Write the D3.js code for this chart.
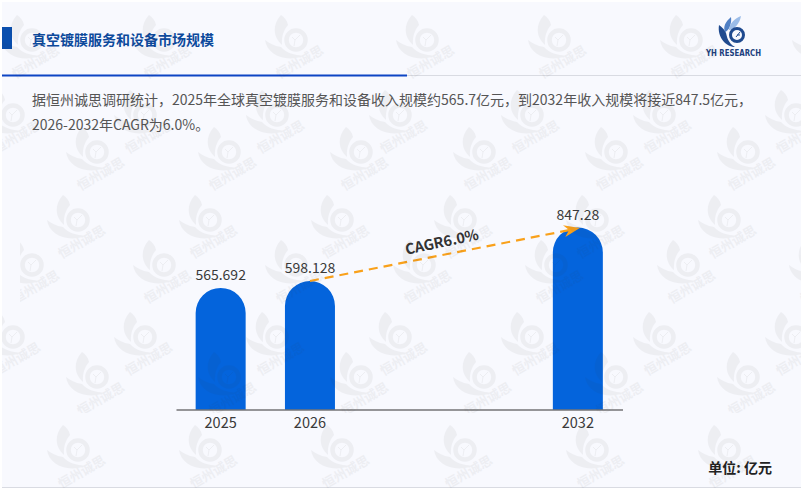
<!DOCTYPE html>
<html>
<head>
<meta charset="utf-8">
<script src="https://cdn.jsdelivr.net/npm/d3@7"></script>
<style>
  html, body { margin: 0; padding: 0; background: #fff; }
  svg { display: block; }
  text { font-family: "Noto Sans CJK SC", "Noto Sans", sans-serif; }
</style>
</head>
<body>
<svg id="chart" width="801" height="491"></svg>
<script>
// data
const years = ["2025", "2026", " ", "  ", "2032"];
const values = [565.692, 598.128, null, null, 847.28];
const valueLabels = ["565.692", "598.128", "", "", "847.28"];
const cagrLabel = "CAGR6.0%";
const titleText = "真空镀膜服务和设备市场规模";
const introLines = [
  "据恒州诚思调研统计，2025年全球真空镀膜服务和设备收入规模约565.7亿元，到2032年收入规模将接近847.5亿元，",
  "2026-2032年CAGR为6.0%。"
];
const unitText = "单位: 亿元";

// watermark rows: y, first x on the left half, first x on the right half
const wmRows = [
  [40, 32, 427], [115, 13, 400], [152, 97, 484], [220, 78, 465],
  [265, 32, 424], [337, 13, 400], [377, 97, 484], [450, 78, 465]
];

const svg = d3.select("#chart");

// page background + header
svg.append("rect").attr("x", 2).attr("y", 2).attr("width", 799).attr("height", 486).attr("fill", "#f8f9fe");
svg.append("rect").attr("x", 2).attr("y", 27).attr("width", 10).attr("height", 22).attr("fill", "#0a4fae");
svg.append("text").attr("x", 32).attr("y", 45).attr("font-size", 14).attr("font-weight", 700)
  .attr("fill", "#0d4a9c").text(titleText);
svg.append("rect").attr("x", 2).attr("y", 75).attr("width", 799).attr("height", 1).attr("fill", "#d9dbe2");
svg.append("rect").attr("x", 2).attr("y", 74.5).attr("width", 405).attr("height", 2).attr("fill", "#0d45c4");
svg.append("rect").attr("x", 2).attr("y", 487).attr("width", 799).attr("height", 1).attr("fill", "#d9dbe2");

svg.selectAll("text.intro").data(introLines).enter().append("text")
  .attr("class", "intro")
  .attr("x", 32)
  .attr("y", (d, i) => 105 + i * 25)
  .attr("font-size", 14)
  .attr("fill", "#555")
  .text(d => d);

// YH logo
const logo = svg.append("g").attr("transform", "translate(737,35)");
logo.append("path").attr("fill", "#1f4a8f").attr("d", "M-18,-10 C-20,2 -11,12 -2,12 C-9,8 -10,2 -11,-2 C-12,-5 -15,-8 -18,-10Z");
logo.append("path").attr("fill", "#4f7fc4").attr("d", "M-6,-18 C-12,-13 -14,-8 -12,-3 C-8,-4 -5,-12 -6,-18Z");
logo.append("path").attr("fill", "#9bbce8").attr("d", "M4,-19 C-2,-17 -8,-11 -8,-5 C-3,-5 3,-12 4,-19Z");
logo.append("circle").attr("r", 6.5).attr("fill", "none").attr("stroke", "#1f4a8f").attr("stroke-width", 3);
logo.append("path").attr("fill", "none").attr("stroke", "#1f4a8f").attr("d", "M-1,2 L3,-3 M0,0 L3,0");
svg.append("text").attr("x", 733.5).attr("y", 56).attr("text-anchor", "middle")
  .attr("font-size", 8).attr("font-weight", 700).attr("fill", "#1c3f7d")
  .style("font-family", "'DejaVu Sans', sans-serif")
  .attr("textLength", 55).attr("lengthAdjust", "spacingAndGlyphs").text("YH RESEARCH");

// scales
const x = d3.scaleBand().domain(years).range([176, 622.5]);
const y = d3.scaleLinear().domain([0, 847.28]).range([409.5, 227.5]);
const barWidth = 50;
const cx = d => x(d) + x.bandwidth() / 2;

const bars = years.map((yr, i) => ({ yr, v: values[i], label: valueLabels[i] })).filter(d => d.v != null);

function barPath(d) {
  const r = barWidth / 2;
  const p = d3.path();
  p.moveTo(cx(d.yr) - r, y(0));
  p.lineTo(cx(d.yr) - r, y(d.v) + r);
  p.arc(cx(d.yr), y(d.v) + r, r, Math.PI, 0);
  p.lineTo(cx(d.yr) + r, y(0));
  p.closePath();
  return p.toString();
}

svg.selectAll("path.bar").data(bars).enter().append("path")
  .attr("class", "bar").attr("d", barPath).attr("fill", "#0464dc");

// axis
const axis = d3.axisBottom(x).tickSize(0).tickPadding(8.5).tickValues(["2025", "2026", "2032"]);
const axisG = svg.append("g").attr("transform", "translate(0,409.5)").call(axis);
axisG.select(".domain").attr("stroke", "#333").attr("stroke-width", 1.2);
axisG.selectAll("text").attr("font-size", 14.5).attr("fill", "#3a3a3a")
  .style("font-family", "'Noto Sans CJK SC', sans-serif");

svg.selectAll("text.val").data(bars).enter().append("text")
  .attr("class", "val")
  .attr("x", d => cx(d.yr))
  .attr("y", d => y(d.v) - 8)
  .attr("text-anchor", "middle")
  .attr("font-size", 14)
  .attr("fill", "#3a3a3a")
  .text(d => d.label);

// CAGR arrow
const ax0 = cx("2026"), ay0 = y(598.128), ax1 = cx("2032") + 2, ay1 = y(847.28) + 0.5;
const ang = Math.atan2(ay1 - ay0, ax1 - ax0) * 180 / Math.PI;
svg.append("line").attr("x1", ax0).attr("y1", ay0).attr("x2", ax1 - 10).attr("y2", ay1 + 2)
  .attr("stroke", "#f9a11b").attr("stroke-width", 2.2).attr("stroke-dasharray", "9 6");
svg.append("path")
  .attr("transform", `translate(${ax1},${ay1}) rotate(${ang})`)
  .attr("d", "M0,0 L-16,-6 L-11,0 L-16,6Z")
  .attr("fill", "#f9a11b");
svg.append("text")
  .attr("transform", "translate(443,247) rotate(-12)")
  .attr("text-anchor", "middle")
  .attr("font-size", 14.5).attr("font-weight", 700).attr("fill", "#333")
  .text(cagrLabel);

svg.append("text").attr("x", 772).attr("y", 473).attr("text-anchor", "end")
  .attr("font-size", 14).attr("font-weight", 700).attr("fill", "#222").text(unitText);

// watermark over everything, cut where the source tiles are cut
const defs = svg.append("defs");
defs.append("clipPath").attr("id", "wmClip").append("rect")
  .attr("x", 2).attr("y", 2).attr("width", 799).attr("height", 486);
defs.append("clipPath").attr("id", "wmClipLow").append("rect")
  .attr("x", 2).attr("y", 2).attr("width", 799).attr("height", 411);
defs.append("clipPath").attr("id", "wmClipLeft").append("rect")
  .attr("x", 20).attr("y", 2).attr("width", 781).attr("height", 486);

wmRows.forEach(([wy, xl, xr]) => {
  const clipId = wy === 377 ? "wmClipLow" : wy === 265 ? "wmClipLeft" : "wmClip";
  const xs = d3.range(0, 3).map(k => xl + k * 132).concat(d3.range(0, 4).map(k => xr + k * 132));
  const wm = svg.append("g").attr("clip-path", `url(#${clipId})`)
    .selectAll("g").data(xs).enter().append("g")
    .attr("transform", d => `translate(${d},${wy})`)
    .attr("opacity", 0.05)
    .attr("pointer-events", "none");
  wm.append("path").attr("fill", "#333")
    .attr("d", "M-15,-25 C-24,-15 -23,-3 -14,5 C-15,-6 -10,-13 -8,-15 C-9,-20 -12,-23 -15,-25Z");
  wm.append("path").attr("fill", "#333")
    .attr("d", "M-31,0 C-29,14 -12,23 8,16 C-2,15 -10,13 -15,7 C-22,6 -27,3 -31,0Z");
  wm.append("circle").attr("r", 9.5).attr("fill", "none").attr("stroke", "#333").attr("stroke-width", 4.5);
  wm.append("path").attr("fill", "none").attr("stroke", "#333").attr("stroke-width", 1)
    .attr("d", "M-2,6 L-1,0 L4,-5 M-1,0 L-4,-3");
  wm.append("text")
    .attr("transform", "translate(6,26) rotate(-30)")
    .attr("text-anchor", "middle")
    .attr("font-size", 13).attr("font-weight", 700).attr("fill", "#333")
    .text("恒州诚思");
});
</script>
</body>
</html>
